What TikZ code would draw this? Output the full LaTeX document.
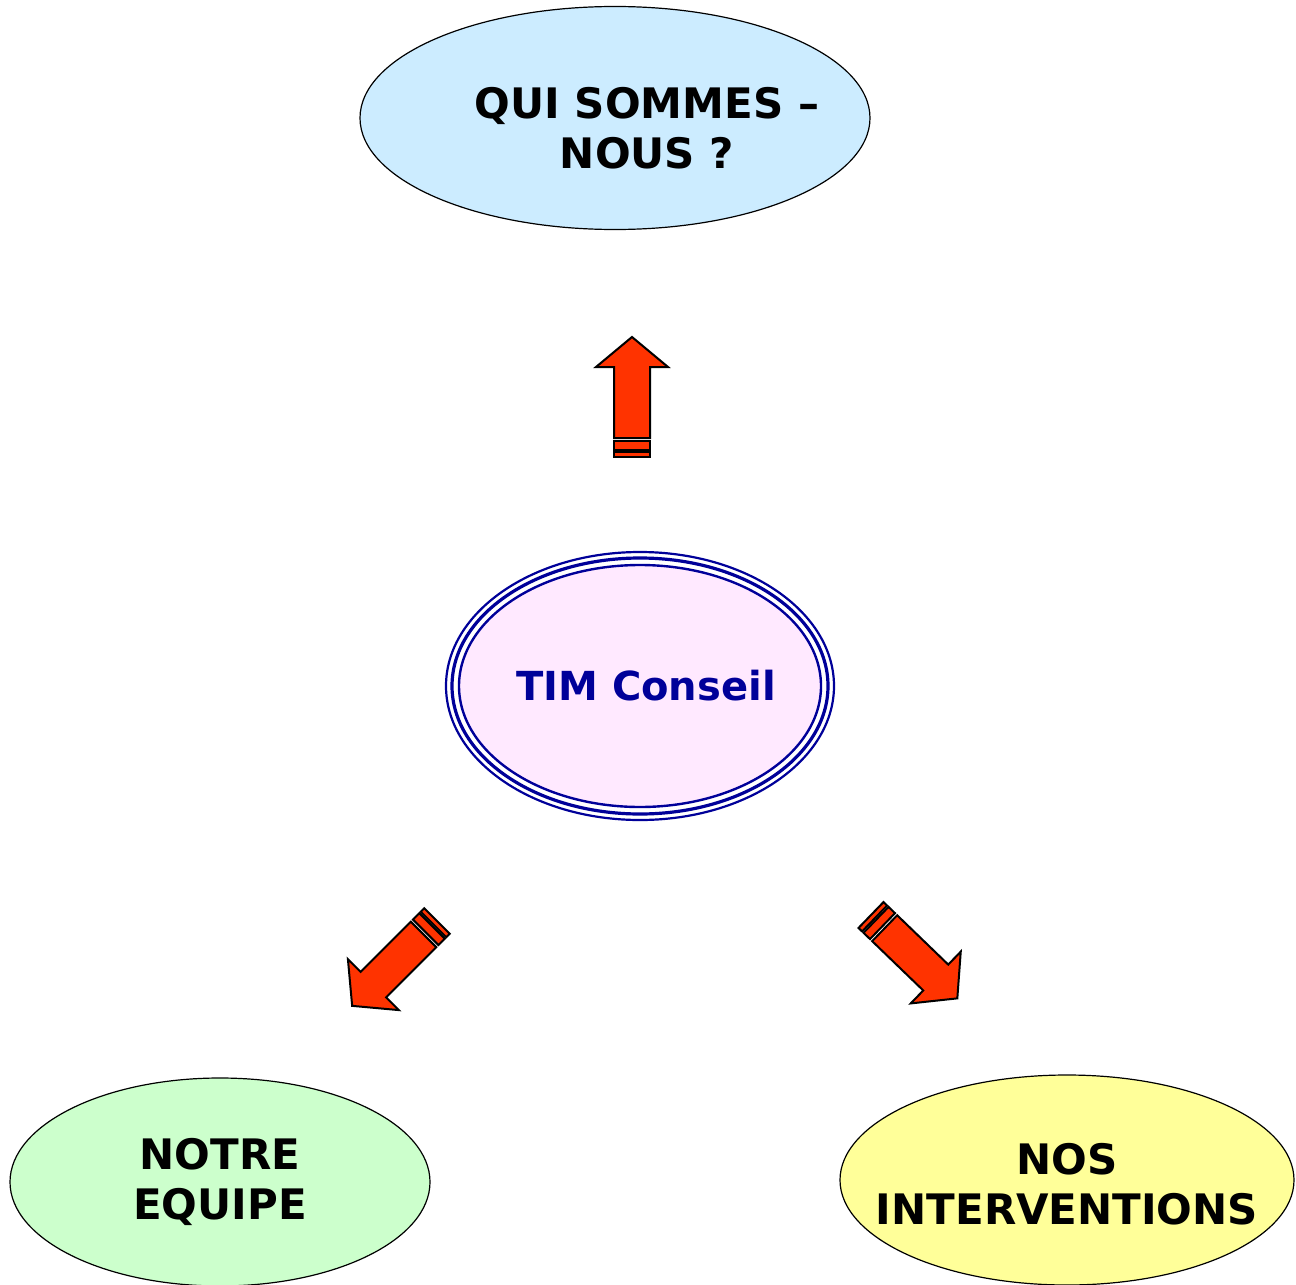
\documentclass[tikz,border=0pt]{standalone}
\usepackage{fontspec}
\setmainfont{DejaVu Sans}
\usetikzlibrary{shapes.geometric}

\definecolor{bleuciel}{HTML}{CCECFF}
\definecolor{rose}{HTML}{FFE9FF}
\definecolor{vertpale}{HTML}{CCFFCC}
\definecolor{jaunepale}{HTML}{FFFF99}
\definecolor{rougefleche}{HTML}{FF3300}
\definecolor{bleunuit}{HTML}{000099}

\tikzset{
  bulle/.style={ellipse, draw, line width=0.6pt, inner sep=0pt},
  titre/.style={font=\fontsize{21}{25}\selectfont\bfseries, align=center},
  fleche/.pic={
    \filldraw[fill=rougefleche, line width=1pt] (0,-18) rectangle (5,18);
    \filldraw[fill=rougefleche, line width=1pt] (7,-18) rectangle (16,18);
    \filldraw[fill=rougefleche, line width=1pt, line join=miter]
      (19,-18) -- (90,-18) -- (90,-36) -- (120,0) -- (90,36) -- (90,18) -- (19,18) -- cycle;
  }
}

\begin{document}
\begin{tikzpicture}[x=0.5pt, y=-0.5pt]
  \useasboundingbox (0,0) rectangle (1296,1285);

  \node[bulle, fill=bleuciel, minimum width=255pt, minimum height=111.5pt,
        label={[titre, xshift=16pt, yshift=-5pt]center:QUI SOMMES –\\NOUS ?}] (qui) at (615,118) {};

  % ellipse centrale a trois traits
  \node[bulle, draw=bleunuit, line width=1.2pt, fill=rose, minimum width=181pt, minimum height=121pt,
        label={[titre, text=bleunuit, font=\fontsize{20}{24}\selectfont\bfseries, xshift=3pt]center:TIM Conseil}] (tim) at (640,686) {};
  \draw[bleunuit, line width=1.6pt] (tim.center) ellipse [x radius=94pt, y radius=64pt];
  \draw[bleunuit, line width=1.1pt] (tim.center) ellipse [x radius=97pt, y radius=67pt];

  \node[bulle, fill=vertpale, minimum width=210pt, minimum height=104pt,
        label={[titre]center:NOTRE\\EQUIPE}] (equipe) at (220,1182) {};
  \node[bulle, fill=jaunepale, minimum width=227pt, minimum height=105pt,
        label={[titre, yshift=-2pt]center:NOS\\INTERVENTIONS}] (interv) at (1067,1180) {};

  \pic[rotate=90] at (632,457) {fleche};
  \pic[rotate=225] at (437,921) {fleche};
  \pic[rotate=-44] at (871,915) {fleche};
\end{tikzpicture}
\end{document}
